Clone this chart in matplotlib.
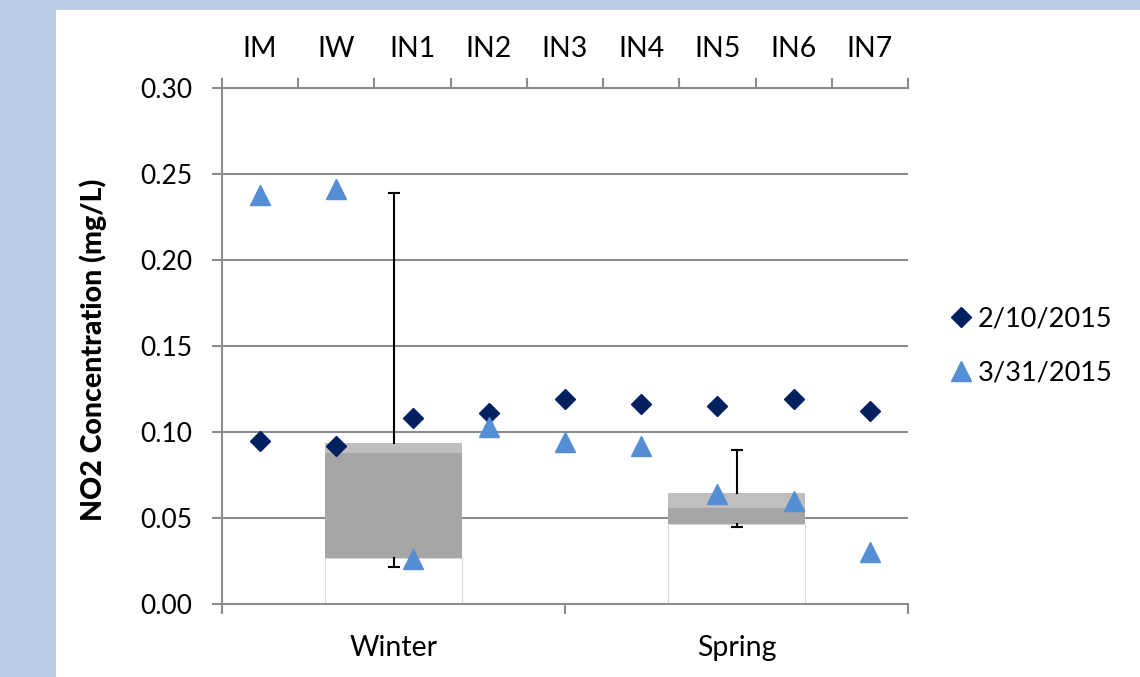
import numpy as np
import matplotlib
matplotlib.use('Agg')
import matplotlib.pyplot as plt
from matplotlib.patches import Rectangle

# site readings (top axis)
sites = ['IM', 'IW', 'IN1', 'IN2', 'IN3', 'IN4', 'IN5', 'IN6', 'IN7']
feb_10 = [0.095, 0.092, 0.108, 0.111, 0.119, 0.116, 0.115, 0.119, 0.112]
mar_31 = [0.238, 0.241, 0.026, 0.103, 0.094, 0.092, 0.064, 0.060, 0.030]

# seasonal box plot (bottom axis)
seasons = ['Winter', 'Spring']
q1 = [0.0267, 0.0465]
median = [0.0878, 0.0558]
q3 = [0.0936, 0.0645]
whisk_lo = [0.0215, 0.0448]
whisk_hi = [0.239, 0.0895]

plt.rcParams['font.family'] = ['Lato', 'DejaVu Sans']
FS = 20.5
YFS = 19
GRID = '#8c8c8c'

W, H = 1140, 677
fig = plt.figure(figsize=(W / 100, H / 100), dpi=100, facecolor='#b9cde5')
fig.patches.append(Rectangle((56 / W, 0), 1, 1 - 10 / H, transform=fig.transFigure,
                             facecolor='white', edgecolor='none', zorder=-1))

ax = fig.add_axes([222 / W, 1 - 604 / H, 686 / W, 516 / H])
ax.set_facecolor('white')

# stacked boxes
x = np.arange(len(seasons)) + 0.5
q1a, meda, q3a = np.array(q1), np.array(median), np.array(q3)
ax.bar(x, q1a, width=0.4, color='white', edgecolor='#d9d9d9', linewidth=0.8, zorder=2)
ax.bar(x, meda - q1a, bottom=q1a, width=0.4, color='#a6a6a6', linewidth=0, zorder=2)
ax.bar(x, q3a - meda, bottom=meda, width=0.4, color='#bfbfbf', linewidth=0, zorder=2)

# whiskers
for xi, a, b, lo, hi in zip(x, q1, q3, whisk_lo, whisk_hi):
    ax.plot([xi, xi], [b, hi], color='black', lw=1.5, zorder=3)
    ax.plot([xi, xi], [a, lo], color='black', lw=1.5, zorder=3)
    ax.plot([xi, xi], [hi, lo], ls='none', marker='_', ms=9, mew=1.5, color='black', zorder=3)

ax.set_xlim(0, len(seasons))
ax.set_ylim(0, 0.30)
ax.set_yticks(np.arange(0, 0.301, 0.05))
ax.set_yticklabels([f'{v:.2f}' for v in np.arange(0, 0.301, 0.05)], fontsize=YFS)
ax.yaxis.grid(True, color=GRID, lw=1.5)
ax.set_axisbelow(True)

ax.set_xticks(np.arange(len(seasons) + 1))
ax.set_xticklabels([])
ax.set_xticks(x, minor=True)
ax.set_xticklabels(seasons, minor=True, fontsize=FS)
ax.tick_params(axis='x', which='major', length=7.2, width=1.5, color=GRID)
ax.tick_params(axis='x', which='minor', length=0, pad=22)
ax.tick_params(axis='y', length=7.2, width=1.5, color=GRID, pad=14)
for s in ['top', 'right']:
    ax.spines[s].set_visible(False)
for s in ['left', 'bottom']:
    ax.spines[s].set_color(GRID)
    ax.spines[s].set_linewidth(1.5)

# site axis on top
ax2 = ax.twiny()
ax2.set_xlim(0, len(sites))
xs = np.arange(len(sites)) + 0.5
ax2.plot(xs, feb_10, ls='none', marker='D', ms=10, color='#002060', label='2/10/2015', clip_on=False)
ax2.plot(xs, mar_31, ls='none', marker='^', ms=14, color='#558ed5', label='3/31/2015', clip_on=False)
ax2.set_xticks(np.arange(len(sites) + 1))
ax2.set_xticklabels([])
ax2.set_xticks(xs, minor=True)
ax2.set_xticklabels(sites, minor=True, fontsize=FS)
ax2.tick_params(axis='x', which='major', length=7.2, width=1.5, color=GRID)
ax2.tick_params(axis='x', which='minor', length=0, pad=19)
for s in ['left', 'right', 'bottom']:
    ax2.spines[s].set_visible(False)
ax2.spines['top'].set_color(GRID)
ax2.spines['top'].set_linewidth(1.5)

fig.text(93 / W, 1 - 350 / H, 'NO2 Concentration (mg/L)', rotation=90, ha='center',
         va='center', fontsize=20.5, fontweight='black')

fig.legend(handles=ax2.get_lines(), loc='center left', bbox_to_anchor=(937 / W, 1 - 346 / H),
           frameon=False, fontsize=19.5, handlelength=0.8, handletextpad=0.2,
           labelspacing=1.05, borderpad=0)

fig.savefig('out.png', dpi=100, facecolor=fig.get_facecolor())
